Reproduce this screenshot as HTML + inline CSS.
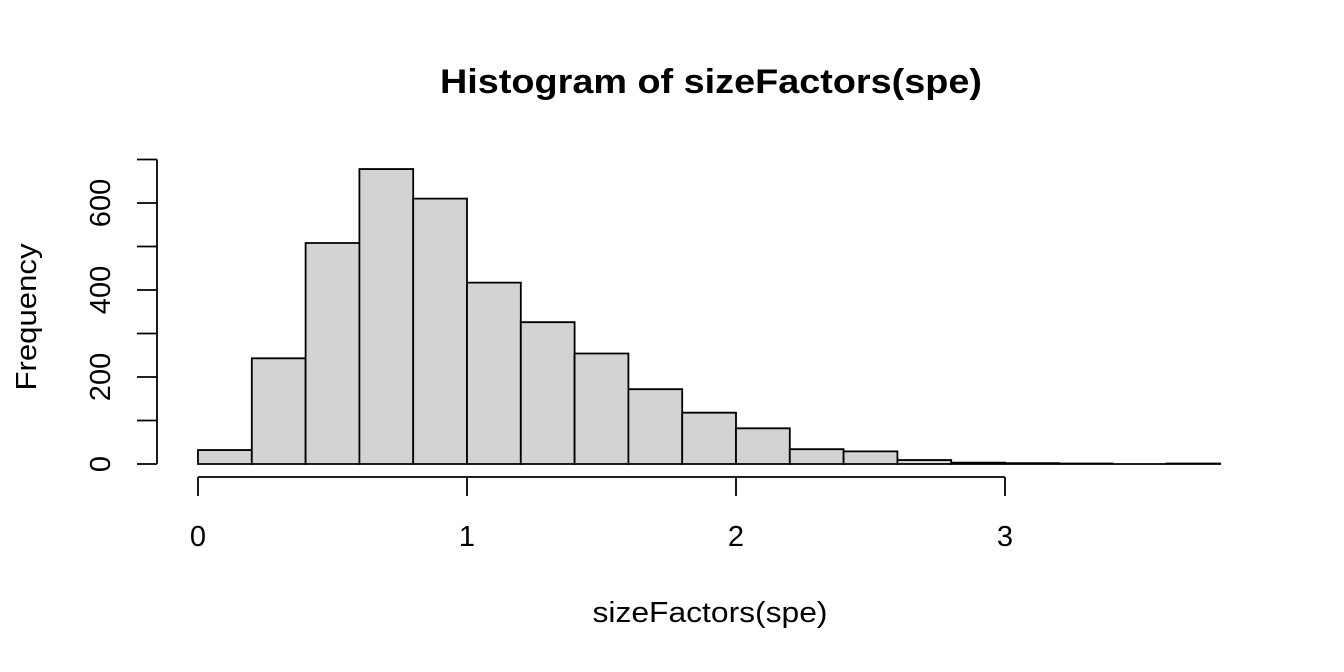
<!DOCTYPE html>
<html><head><meta charset="utf-8"><style>body{margin:0;background:#fff}svg{display:block;font-family:"Liberation Sans",sans-serif}</style></head>
<body>
<svg id="chart" width="1344" height="672" xmlns="http://www.w3.org/2000/svg">
<text x="711" y="93" text-anchor="middle" font-size="34" font-weight="bold" textLength="542" lengthAdjust="spacingAndGlyphs">Histogram of sizeFactors(spe)</text>
<text x="710" y="622" text-anchor="middle" font-size="29" textLength="235" lengthAdjust="spacingAndGlyphs">sizeFactors(spe)</text>
<text transform="translate(36,317) rotate(-90)" text-anchor="middle" font-size="29" textLength="147" lengthAdjust="spacingAndGlyphs">Frequency</text>
<g id="bars"></g><g id="axes"></g>
</svg>
<script>
const binStarts=[0,0.2,0.4,0.6,0.8,1.0,1.2,1.4,1.6,1.8,2.0,2.2,2.4,2.6,2.8,3.0,3.2,3.4,3.6];
const counts=[32,243,508,678,610,417,326,254,172,118,82,34,29,9,3,2,1,0,1];
const binWidth=0.2;
const xTicks=[0,1,2,3];
const yTicks=[0,100,200,300,400,500,600,700];
const yLabels=[0,200,400,600];
const NS="http://www.w3.org/2000/svg";
const xs=v=>198+v*269;
const ys=v=>464-v*0.435;
function mk(t,a,p){const e=document.createElementNS(NS,t);for(const k in a)e.setAttribute(k,a[k]);p.appendChild(e);return e;}
const bars=document.getElementById('bars'),axes=document.getElementById('axes');
binStarts.forEach((b,i)=>{
 const x0=xs(b),x1=xs(b+binWidth),y=ys(counts[i]);
 const r=mk('path',{d:`M${x0},464V${y}H${x1}V464Z`,fill:'#d3d3d3',stroke:'#000','stroke-width':1.8},bars);
 
 
});
const xl=mk('line',{x1:xs(xTicks[0]),x2:xs(xTicks[xTicks.length-1]),y1:477,y2:477,stroke:'#000','stroke-width':1.8},axes);


xTicks.forEach(t=>{
 mk('line',{x1:xs(t),x2:xs(t),y1:477,y2:496,stroke:'#000','stroke-width':1.8},axes);
 const tx=mk('text',{x:xs(t),y:546,'text-anchor':'middle','font-size':29},axes);tx.textContent=t;
 
 
});
const yl=mk('line',{x1:157,x2:157,y1:ys(yTicks[0]),y2:ys(yTicks[yTicks.length-1]),stroke:'#000','stroke-width':1.8},axes);


yTicks.forEach(t=>{mk('line',{x1:137,x2:157,y1:ys(t),y2:ys(t),stroke:'#000','stroke-width':1.8},axes);});
yLabels.forEach(t=>{
 const tx=mk('text',{transform:`translate(110,${ys(t)}) rotate(-90)`,'text-anchor':'middle','font-size':29},axes);tx.textContent=t;
 
 
});
</script>
</body></html>
